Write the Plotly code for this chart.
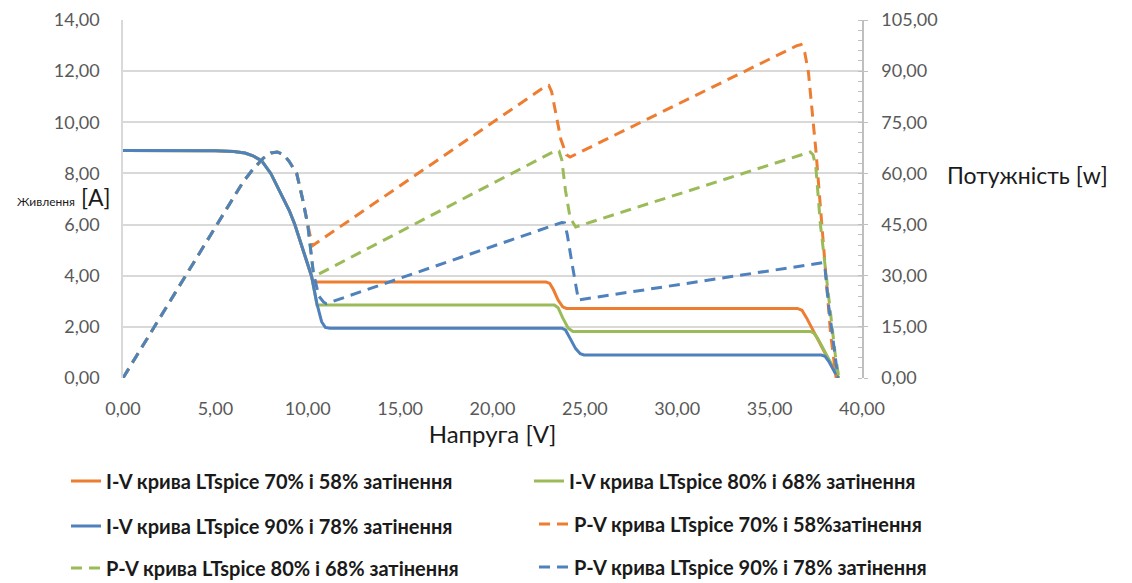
import plotly.graph_objects as go

# ---------------- data ----------------
# I-V curves [A]
v_iv_70 = [0, 2, 4, 5.0, 6.0, 6.6, 7.0, 7.5, 8.0, 8.5, 9.0, 9.3, 9.75, 10.2, 10.3, 22.9, 23.1, 23.3, 23.55, 23.8, 24.0, 36.5, 36.75, 37.0, 38.7]
i_iv_70 = [8.9, 8.9, 8.9, 8.89, 8.86, 8.8, 8.7, 8.5, 8.0, 7.3, 6.55, 6.0, 5.0, 4.0, 3.75, 3.75, 3.7, 3.45, 3.05, 2.78, 2.72, 2.72, 2.65, 2.35, 0.0]

v_iv_80 = [0, 2, 4, 5.0, 6.0, 6.6, 7.0, 7.5, 8.0, 8.5, 9.0, 9.3, 9.75, 10.2, 10.5, 23.35, 23.55, 23.8, 24.1, 24.35, 37.2, 37.4, 37.6, 38.75]
i_iv_80 = [8.9, 8.9, 8.9, 8.89, 8.86, 8.8, 8.7, 8.5, 8.0, 7.3, 6.55, 6.0, 5.0, 4.0, 2.85, 2.85, 2.75, 2.35, 1.95, 1.82, 1.82, 1.75, 1.55, 0.0]

v_iv_90 = [0, 2, 4, 5.0, 6.0, 6.6, 7.0, 7.5, 8.0, 8.5, 9.0, 9.3, 9.75, 10.2, 10.5, 10.75, 10.95, 11.2, 23.75, 23.95, 24.2, 24.5, 24.75, 24.95, 37.8, 38.0, 38.2, 38.7]
i_iv_90 = [8.9, 8.9, 8.9, 8.89, 8.86, 8.8, 8.7, 8.5, 8.0, 7.3, 6.55, 6.0, 5.0, 4.0, 2.9, 2.2, 1.98, 1.95, 1.95, 1.88, 1.55, 1.15, 0.95, 0.9, 0.9, 0.85, 0.65, 0.0]

# P-V curves [W]
v_pv_70 = [0, 3.2, 6.5, 7.0, 7.6, 8.0, 8.35, 8.7, 9.0, 9.4, 9.7, 10.0, 10.25, 22.85, 23.05, 23.2, 23.4, 23.7, 24.0, 24.2, 36.45, 36.7, 36.9, 37.1, 37.5, 37.9, 38.3, 38.6]
p_pv_70 = [0, 28.5, 57.5, 61, 64.5, 66, 66.3, 65.5, 63.5, 60, 53, 45, 38.8, 85.5, 85.8, 84, 78, 70, 65.5, 64.8, 97.4, 97.8, 95.5, 89.7, 67, 40, 13, 0]

v_pv_80 = [0, 3.2, 6.5, 7.0, 7.6, 8.0, 8.35, 8.7, 9.0, 9.4, 9.7, 10.0, 10.3, 10.5, 23.45, 23.6, 23.75, 23.95, 24.2, 24.5, 37.2, 37.35, 37.5, 37.75, 38.0, 38.3, 38.55, 38.75]
p_pv_80 = [0, 28.5, 57.5, 61, 64.5, 66, 66.3, 65.5, 63.5, 60, 53, 45, 31, 30.2, 66.8, 66.6, 64, 55, 47, 44.3, 66.3, 65.5, 62, 45, 33, 18, 7, 0]

v_pv_90 = [0, 3.2, 6.5, 7.0, 7.6, 8.0, 8.35, 8.7, 9.0, 9.4, 9.7, 10.0, 10.3, 10.6, 10.85, 11.0, 23.75, 23.9, 24.05, 24.3, 24.65, 37.85, 38.0, 38.2, 38.45, 38.7]
p_pv_90 = [0, 28.5, 57.5, 61, 64.5, 66, 66.3, 65.5, 63.5, 60, 53, 45, 31, 24, 22.3, 21.8, 45.6, 45.5, 42, 33.7, 22.9, 33.8, 32, 21, 10, 0]

names = [
    "I-V крива LTspice 70% і 58% затінення",
    "I-V крива LTspice 80% і 68% затінення",
    "I-V крива LTspice 90% і 78% затінення",
    "P-V крива LTspice 70% і 58%затінення",
    "P-V крива LTspice 80% і 68% затінення",
    "P-V крива LTspice 90% і 78% затінення",
]

x_ticks = [0, 5, 10, 15, 20, 25, 30, 35, 40]
y_ticks = [0, 2, 4, 6, 8, 10, 12, 14]
y2_ticks = [0, 15, 30, 45, 60, 75, 90, 105]

ORANGE = "#ED7D31"
GREEN = "#9BBB59"
BLUE = "#4F81BD"
FONT = "Lato"
DASH = "11px,7px"

# plot-area geometry (pixels)
PL, PR, PT, PB = 123, 862, 20, 378
PW, PH = PR - PL, PB - PT

def px(x):
    return (x - PL) / PW

def py(y):
    return (PB - y) / PH

fig = go.Figure()

# legend slots: (legend id, text-left px, row centre px)
slots = [
    ("legend", 108, 481), ("legend2", 571, 481),
    ("legend3", 108, 526), ("legend4", 576, 524),
    ("legend5", 108, 568), ("legend6", 576, 567),
]

series = [
    (v_iv_70, i_iv_70, ORANGE, "solid", "y"),
    (v_iv_80, i_iv_80, GREEN, "solid", "y"),
    (v_iv_90, i_iv_90, BLUE, "solid", "y"),
    (v_pv_70, p_pv_70, ORANGE, DASH, "y2"),
    (v_pv_80, p_pv_80, GREEN, DASH, "y2"),
    (v_pv_90, p_pv_90, BLUE, DASH, "y2"),
]

legfont = dict(family=FONT, size=20, color="#1a1a1a", weight="bold")
legends = {}
for (x, y, color, dash, yax), name, (lid, tx, ty) in zip(series, names, slots):
    fig.add_trace(go.Scatter(
        x=x, y=y, name=name, mode="lines", yaxis=yax, legend=lid,
        line=dict(color=color, width=3, dash=dash),
    ))
    legends[lid] = dict(orientation="h", x=px(tx - 42), xanchor="left", y=py(ty), yanchor="middle",
                        font=legfont, bgcolor="rgba(0,0,0,0)", itemwidth=30)

tickfont = dict(family=FONT, size=18, color="#595959")

fig.update_layout(
    width=1132, height=583,
    margin=dict(l=PL, r=1132 - PR, t=PT, b=583 - PB, autoexpand=False),
    paper_bgcolor="white", plot_bgcolor="white",
    separators=",.",
    showlegend=True,
    **legends,
    xaxis=dict(
        range=[0, 40], tickvals=x_ticks, tickformat=".2f", tickfont=tickfont,
        showgrid=False, zeroline=False, showline=False, ticks="", ticklabelstandoff=18,
        title=dict(text="Напруга [V]", font=dict(family=FONT, size=24, color="#1a1a1a"), standoff=4),
    ),
    yaxis=dict(
        range=[0, 14], tickvals=y_ticks, tickformat=".2f", tickfont=tickfont,
        showgrid=True, gridcolor="#d9d9d9", gridwidth=1.5, zeroline=False,
        showline=True, linecolor="#d9d9d9", linewidth=1.5, ticks="", ticklabelstandoff=18,
    ),
    yaxis2=dict(
        range=[0, 105], tickvals=y2_ticks, tickformat=".2f", tickfont=tickfont,
        overlaying="y", side="right", showgrid=False, zeroline=False,
        showline=True, linecolor="#bfbfbf", linewidth=1.5,
        ticks="outside", ticklen=4, tickcolor="#bfbfbf", ticklabelstandoff=10,
        minor=dict(dtick=3, ticks="inside", ticklen=4, tickcolor="#bfbfbf", showgrid=False),
    ),
    annotations=[
        dict(text="<span style='font-size:12px'>Живлення</span> [A]", xref="paper", yref="paper",
             x=px(15), y=py(197), xanchor="left", yanchor="middle",
             showarrow=False, font=dict(family=FONT, size=23, color="#1a1a1a")),
        dict(text="Потужність [w]", xref="paper", yref="paper",
             x=px(945), y=py(175), xanchor="left", yanchor="middle",
             showarrow=False, font=dict(family=FONT, size=23, color="#1a1a1a")),
    ],
)

fig.write_html("out.html")
